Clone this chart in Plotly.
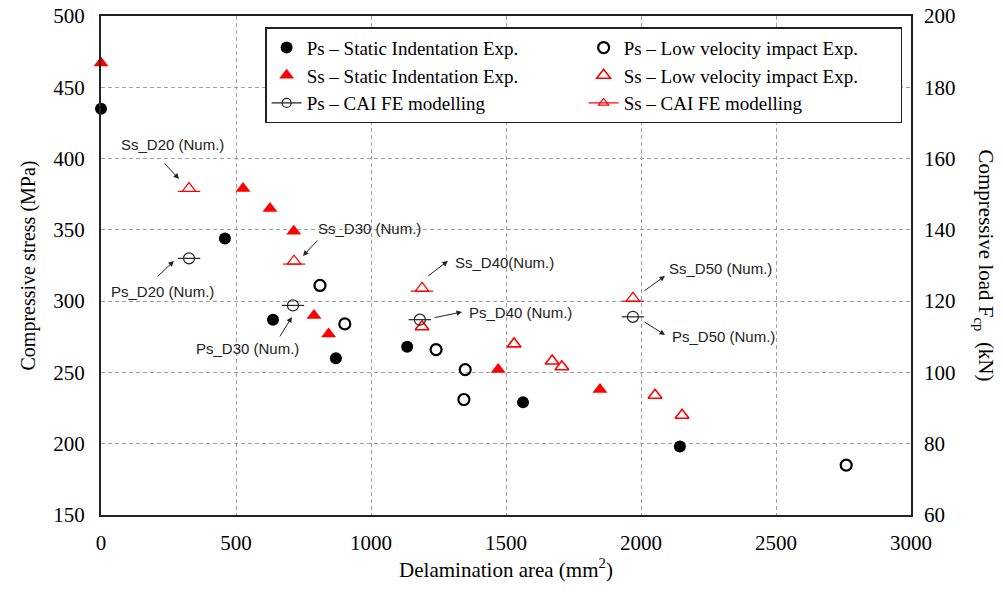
import plotly.graph_objects as go

# ---- data ----
ps_static_x = [0, 459, 637, 870, 1134, 1563, 2144]
ps_static_y = [435, 344, 287, 260, 268, 229, 198]

ps_lvi_x = [811, 903, 1241, 1349, 1344, 2760]
ps_lvi_y = [311, 284, 266, 252, 231, 185]

ss_static_x = [0, 526, 626, 714, 789, 843, 1471, 1848]
ss_static_y = [467, 379, 365, 349, 290, 277, 252, 238]

ss_lvi_x = [1189, 1530, 1671, 1707, 2052, 2152]
ss_lvi_y = [282, 270, 258, 254, 234, 220]

ps_fe_x = [326, 711, 1181, 1970]
ps_fe_y = [330, 297, 287, 289]

ss_fe_x = [326, 715, 1189, 1970]
ss_fe_y = [379, 328, 309, 302]

# annotation labels: text, text position, arrow tail, arrow head (data units)
ann_text = ["Ss_D20 (Num.)", "Ps_D20 (Num.)", "Ss_D30 (Num.)", "Ps_D30 (Num.)",
            "Ss_D40(Num.)", "Ps_D40 (Num.)", "Ss_D50 (Num.)", "Ps_D50 (Num.)"]
ann_tx = [263, 226, 993, 541, 1496, 1552, 2293, 2304]
ann_ty = [410, 306.5, 351.3, 266.5, 326.8, 291.7, 322.6, 274.9]
arr_tail_x = [230, 204, 807, 659, 1207, 1230, 2007, 2007]
arr_tail_y = [397.6, 316.3, 343.6, 274.2, 317, 288.2, 306.5, 286.1]
arr_head_x = [289, 270, 748, 707, 1285, 1337, 2089, 2089]
arr_head_y = [385.7, 328.2, 331.7, 288.9, 328.2, 292.4, 317.7, 276.3]

x_ticks = [0, 500, 1000, 1500, 2000, 2500, 3000]
y_ticks = [150, 200, 250, 300, 350, 400, 450, 500]
y2_ticks = [60, 80, 100, 120, 140, 160, 180, 200]

RED = "#ff0000"
SERIF = "Liberation Serif"
SANS = "Liberation Sans"

fig = go.Figure()

fig.add_trace(go.Scatter(
    x=ps_static_x, y=ps_static_y, mode="markers", name="Ps – Static Indentation Exp.",
    marker=dict(symbol="circle", size=12, color="black"), cliponaxis=False, legendrank=1))
fig.add_trace(go.Scatter(
    x=ps_lvi_x, y=ps_lvi_y, mode="markers", name="Ps – Low velocity impact Exp.",
    marker=dict(symbol="circle-open", size=11, color="black", line=dict(width=2.2)),
    cliponaxis=False, legendrank=2))
fig.add_trace(go.Scatter(
    x=ss_static_x, y=ss_static_y, mode="markers", name="Ss – Static Indentation Exp.",
    marker=dict(symbol="triangle-up", size=13, color=RED), cliponaxis=False, legendrank=3))
fig.add_trace(go.Scatter(
    x=ss_lvi_x, y=ss_lvi_y, mode="markers", name="Ss – Low velocity impact Exp.",
    marker=dict(symbol="triangle-up-open", size=12, color=RED, line=dict(width=1.6)),
    cliponaxis=False, legendrank=4))

# FE modelling points: open marker with a horizontal bar through it
fig.add_trace(go.Scatter(
    x=ps_fe_x, y=ps_fe_y, mode="markers", showlegend=False,
    marker=dict(symbol="circle-open", size=11, color="#222", line=dict(width=1.2))))
fig.add_trace(go.Scatter(
    x=ps_fe_x, y=ps_fe_y, mode="markers", showlegend=False,
    marker=dict(symbol="line-ew", size=16, color="#222", line=dict(width=1.2, color="#222"))))
fig.add_trace(go.Scatter(
    x=ss_fe_x, y=ss_fe_y, mode="markers", showlegend=False,
    marker=dict(symbol="triangle-up-open", size=12, color=RED, line=dict(width=1.2))))
fig.add_trace(go.Scatter(
    x=ss_fe_x, y=[v - 2 for v in ss_fe_y], mode="markers", showlegend=False,
    marker=dict(symbol="line-ew", size=16, color=RED, line=dict(width=1.2, color=RED))))

# legend entries for FE modelling
fig.add_trace(go.Scatter(
    x=[None], y=[None], mode="lines+markers", name="Ps – CAI FE modelling",
    line=dict(color="#222", width=1.2),
    marker=dict(symbol="circle-open", size=9, color="#222", line=dict(width=1.2)), legendrank=5))
fig.add_trace(go.Scatter(
    x=[None], y=[None], mode="lines+markers", name="Ss – CAI FE modelling",
    line=dict(color=RED, width=1.2),
    marker=dict(symbol="triangle-up-open", size=9, color=RED, line=dict(width=1.2)), legendrank=6))

# invisible trace to activate the secondary axis
fig.add_trace(go.Scatter(x=[None], y=[None], yaxis="y2", showlegend=False, hoverinfo="skip"))

annotations = []
for t, tx, ty in zip(ann_text, ann_tx, ann_ty):
    annotations.append(dict(x=tx, y=ty, xref="x", yref="y", text=t, showarrow=False,
                            font=dict(family=SANS, size=15, color="#222")))
for hx, hy, tx, ty in zip(arr_head_x, arr_head_y, arr_tail_x, arr_tail_y):
    annotations.append(dict(x=hx, y=hy, ax=tx, ay=ty, xref="x", yref="y", axref="x", ayref="y",
                            text="", showarrow=True, arrowhead=2, arrowsize=1.1,
                            arrowwidth=1, arrowcolor="#222"))
annotations.append(dict(x=1.0, xref="paper", xanchor="center", xshift=74, y=0.5, yref="paper",
                        text="Compressive load F<sub>cp</sub>  (kN)", textangle=90, showarrow=False,
                        font=dict(family=SERIF, size=21, color="black")))

grid = dict(showgrid=True, gridcolor="#a0a0a0", gridwidth=1, griddash="4px,3px")

fig.update_layout(
    width=1003, height=594,
    margin=dict(l=101, r=92, t=16, b=79, autoexpand=False),
    paper_bgcolor="white", plot_bgcolor="white",
    font=dict(family=SERIF, size=21, color="black"),
    xaxis=dict(range=[0, 3000], tickvals=x_ticks, showline=True, linecolor="#222",
               linewidth=2, mirror=True, zeroline=False, ticks="", ticklabelstandoff=8,
               automargin=False,
               title=dict(text="Delamination area (mm<sup>2</sup>)", font=dict(size=21), standoff=8),
               **grid),
    yaxis=dict(range=[150, 500], tickvals=y_ticks, showline=True, linecolor="#222",
               linewidth=2, mirror=True, zeroline=False, ticks="", ticklabelstandoff=10,
               automargin=False,
               title=dict(text="Compressive stress (MPa)", font=dict(size=20), standoff=12),
               **grid),
    yaxis2=dict(range=[60, 200], tickvals=y2_ticks, overlaying="y", side="right",
                showgrid=False, zeroline=False, showline=False, ticks="", ticklabelstandoff=12,
                automargin=False),
    legend=dict(orientation="h", x=0.203, y=0.977, xanchor="left", yanchor="top",
                entrywidth=272, bordercolor="#222", borderwidth=1.2, bgcolor="white",
                font=dict(family=SERIF, size=19, color="black"), traceorder="normal"),
    annotations=annotations,
    showlegend=True,
)

fig.write_html("out.html")
